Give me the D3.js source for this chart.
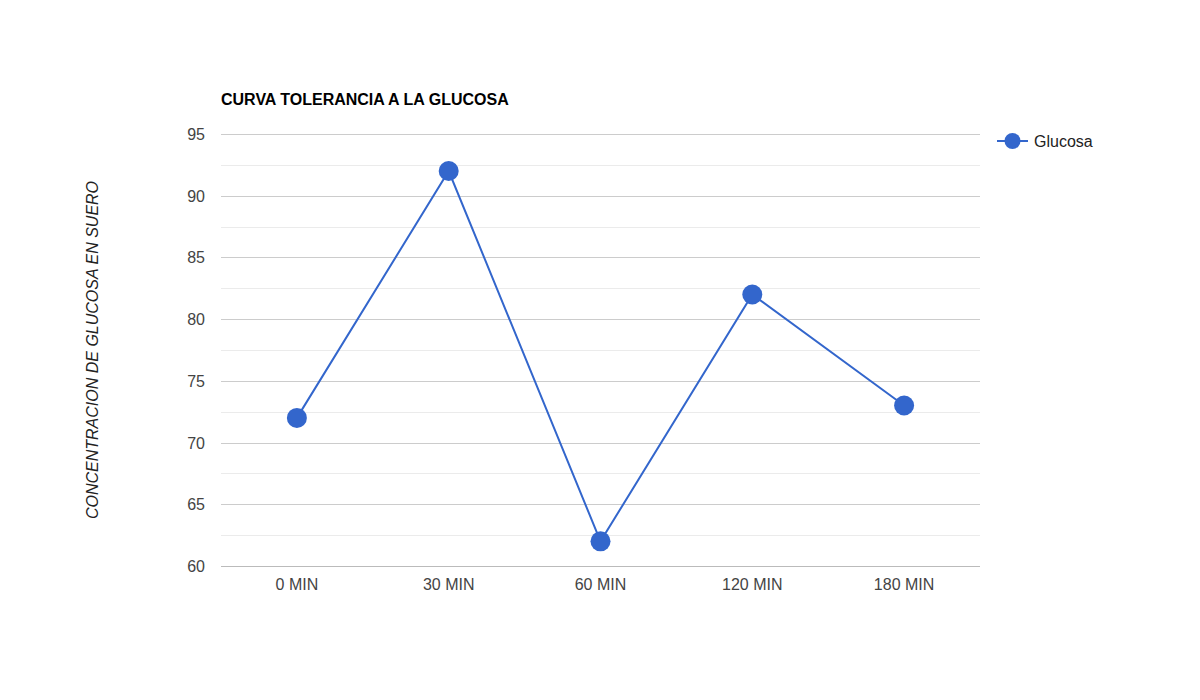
<!DOCTYPE html>
<html lang="es">
<head>
<meta charset="utf-8">
<title>Curva tolerancia a la glucosa</title>
<script src="https://d3js.org/d3.v7.min.js" charset="utf-8"></script>
<style type="text/css">
    body { margin: 0; background: #fff; }
    svg { font-family: "Liberation Sans", Arial, sans-serif; }
</style>
</head>
<body>
<script type="text/javascript">
    // data
    var categories = ['0 MIN', '30 MIN', '60 MIN', '120 MIN', '180 MIN'];
    var glucosa = [72, 92, 62, 82, 73];
    var yTicks = [60, 65, 70, 75, 80, 85, 90, 95];
    var yMinor = [62.5, 67.5, 72.5, 77.5, 82.5, 87.5, 92.5];

    var width = 1200, height = 700;
    var plotLeft = 221, plotRight = 980, plotTop = 134, plotBottom = 566;
    var blue = '#3366cc';

    var svg = d3.select('body').append('svg')
        .attr('width', width)
        .attr('height', height);

    var x = d3.scaleBand().domain(categories).range([plotLeft, plotRight]);
    var y = d3.scaleLinear().domain([60, 95]).range([plotBottom, plotTop]);

    // minor gridlines
    svg.append('g').selectAll('line')
        .data(yMinor)
        .enter()
        .append('line')
        .attr('x1', plotLeft).attr('x2', plotRight)
        .attr('y1', function (d) { return Math.round(y(d)) + 0.5; })
        .attr('y2', function (d) { return Math.round(y(d)) + 0.5; })
        .style('stroke', '#ebebeb');

    // major gridlines + labels
    var yAxis = svg.append('g');
    yAxis.selectAll('line')
        .data(yTicks)
        .enter()
        .append('line')
        .attr('x1', plotLeft).attr('x2', plotRight)
        .attr('y1', function (d) { return Math.round(y(d)) + 0.5; })
        .attr('y2', function (d) { return Math.round(y(d)) + 0.5; })
        .style('stroke', function (d) { return d === 60 ? '#bbb' : '#ccc'; });
    yAxis.selectAll('text')
        .data(yTicks)
        .enter()
        .append('text')
        .attr('x', plotLeft - 16)
        .attr('y', function (d) { return y(d) + 6; })
        .attr('text-anchor', 'end')
        .style('font-size', '16px')
        .style('fill', '#444')
        .text(function (d) { return d; });

    // x labels
    svg.append('g').selectAll('text')
        .data(categories)
        .enter()
        .append('text')
        .attr('x', function (d) { return x(d) + x.bandwidth() / 2; })
        .attr('y', plotBottom + 24)
        .attr('text-anchor', 'middle')
        .style('font-size', '16px')
        .style('fill', '#444')
        .text(function (d) { return d; });

    // line + points
    var line = d3.line()
        .x(function (d, i) { return x(categories[i]) + x.bandwidth() / 2; })
        .y(function (d) { return y(d); });

    svg.append('path')
        .datum(glucosa)
        .attr('d', line)
        .style('fill', 'none')
        .style('stroke', blue)
        .style('stroke-width', 2);

    svg.append('g').selectAll('circle')
        .data(glucosa)
        .enter()
        .append('circle')
        .attr('cx', function (d, i) { return x(categories[i]) + x.bandwidth() / 2; })
        .attr('cy', function (d) { return y(d); })
        .attr('r', 10)
        .style('fill', blue);

    // title
    svg.append('text')
        .attr('x', plotLeft)
        .attr('y', 105)
        .style('font-size', '16px')
        .style('font-weight', 'bold')
        .style('fill', '#000')
        .text('CURVA TOLERANCIA A LA GLUCOSA');

    // y axis title
    svg.append('text')
        .attr('transform', 'translate(98,' + ((plotTop + plotBottom) / 2) + ') rotate(-90)')
        .attr('text-anchor', 'middle')
        .style('font-size', '16px')
        .style('font-style', 'italic')
        .style('fill', '#222')
        .text('CONCENTRACION DE GLUCOSA EN SUERO');

    // legend
    var legend = svg.append('g').attr('transform', 'translate(997,141)');
    legend.append('line')
        .attr('x1', 0).attr('x2', 31)
        .style('stroke', blue)
        .style('stroke-width', 2);
    legend.append('circle')
        .attr('cx', 15.5).attr('cy', 0).attr('r', 8)
        .style('fill', blue);
    legend.append('text')
        .attr('x', 37).attr('y', 6)
        .style('font-size', '16px')
        .style('fill', '#222')
        .text('Glucosa');
</script>
</body>
</html>
